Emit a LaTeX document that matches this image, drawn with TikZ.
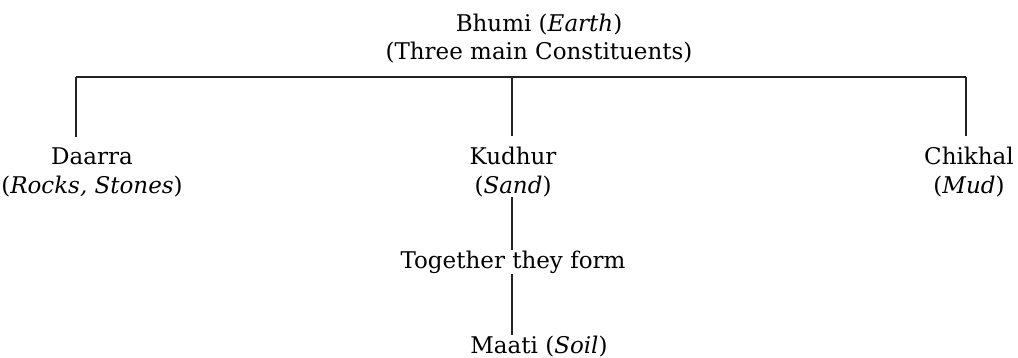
\documentclass[tikz,border=0pt]{standalone}
\usepackage{fontspec}
\setmainfont{DejaVu Serif}
\usepackage{tikz}
\usetikzlibrary{positioning}
\definecolor{treeink}{RGB}{35,35,35}
\tikzset{
  term/.style={align=center, inner sep=0pt, anchor=base,
               font=\fontsize{11.5}{14}\selectfont, text=black},
  link/.style={draw=treeink, line width=0.6pt},
}

\begin{document}
\begin{tikzpicture}[x=0.5pt, y=-0.5pt]
  \useasboundingbox (0,0) rectangle (1018,358);
  \node[term] (bhumi) at (539,60) {Bhumi (\textit{Earth})\\(Three main Constituents)};
  \coordinate (barl) at (76,77);
  \coordinate (barm) at (512,77);
  \coordinate (barr) at (966,77);
  \node[term] (daarra) at (92,193) {Daarra\\(\textit{Rocks, Stones})};
  \node[term] (kudhur) at (513,193) {Kudhur\\(\textit{Sand})};
  \node[term] (chikhal) at (969,193) {Chikhal\\(\textit{Mud})};
  \node[term] (together) at (513,268) {Together they form};
  \node[term] (maati) at (539,353) {Maati (\textit{Soil})};
  % bar under the title
  \draw[link] (barl) -- (barr);
  \draw[link, shorten >=5.5pt] (barl) -- (barl |- daarra.north);
  \draw[link, shorten >=5.5pt] (barm) -- (barm |- kudhur.north);
  \draw[link, shorten >=5.5pt] (barr) -- (barr |- chikhal.north);
  % down to the soil
  \draw[link] (barm |- kudhur.south) -- (barm |- together.north);
  \draw[link] (barm |- together.south) -- (barm |- maati.north);
\end{tikzpicture}
\end{document}
